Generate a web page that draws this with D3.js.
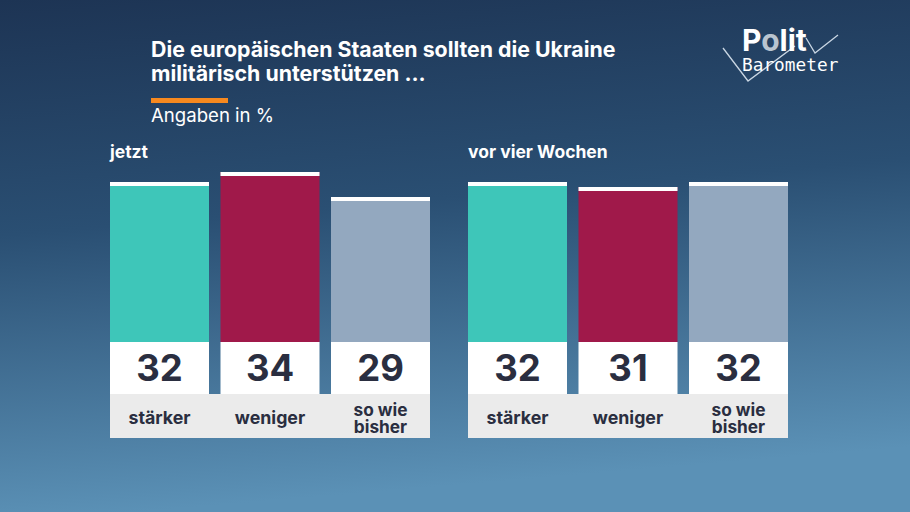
<!DOCTYPE html>
<html>
<head>
<meta charset="utf-8">
<script src="https://cdn.jsdelivr.net/npm/d3@7"></script>
<style>
  body { margin: 0; background: #1e3756; }
  svg { display: block; font-family: Inter, "Noto Sans", sans-serif; }
</style>
</head>
<body>
<svg id="chart" width="910" height="512"></svg>
<script>
// data
var categories = ["stärker", "weniger", "so wie bisher"];
var labelLines = [["stärker"], ["weniger"], ["so wie", "bisher"]];
var jetzt = [32, 34, 29];
var vorVierWochen = [32, 31, 32];
var panelTitles = ["jetzt", "vor vier Wochen"];
var barColors = ["#3ec6b9", "#a0194a", "#93a8bf"];

var dims = { width: 910, height: 512, base: 342, numH: 52, labH: 44 };

var svg = d3.select("#chart");

// background gradient
var defs = svg.append("defs");
var grad = defs.append("linearGradient").attr("id", "bg")
    .attr("x1", 0).attr("y1", 0).attr("x2", 0.15).attr("y2", 1);
grad.append("stop").attr("offset", "0%").attr("stop-color", "#1d3454");
grad.append("stop").attr("offset", "45%").attr("stop-color", "#2a4f73");
grad.append("stop").attr("offset", "100%").attr("stop-color", "#5b91b6");
svg.append("rect").attr("width", dims.width).attr("height", dims.height).attr("fill", "url(#bg)");

// title
svg.append("text").attr("x", 151).attr("y", 57)
    .attr("fill", "#fff").attr("font-size", 21.3).attr("font-weight", 700)
    .text("Die europäischen Staaten sollten die Ukraine");
svg.append("text").attr("x", 151).attr("y", 81)
    .attr("fill", "#fff").attr("font-size", 21.3).attr("font-weight", 700)
    .text("militärisch unterstützen ...");
svg.append("rect").attr("x", 151).attr("y", 98).attr("width", 77).attr("height", 5).attr("fill", "#f7891f");
svg.append("text").attr("x", 151).attr("y", 122)
    .attr("fill", "#fff").attr("font-size", 18.6)
    .text("Angaben in %");

// logo
var logo = svg.append("g");
logo.append("polyline")
    .attr("points", "723,48 748,81 795,46")
    .attr("fill", "none").attr("stroke", "#c9d6e3").attr("stroke-width", 1.3);
logo.append("polyline")
    .attr("points", "806,38 815,53 838,35")
    .attr("fill", "none").attr("stroke", "#c9d6e3").attr("stroke-width", 1.3);
var pol = logo.append("text").attr("x", 742).attr("y", 51)
    .attr("font-size", 30).attr("font-weight", 700).attr("fill", "#fff");
pol.append("tspan").text("P");
pol.append("tspan").attr("fill", "#b9c4d0").text("o");
pol.append("tspan").text("lit");
logo.append("text").attr("x", 742).attr("y", 71)
    .attr("font-size", 17.8).attr("fill", "#fff")
    .attr("font-family", "'DejaVu Sans Mono', monospace")
    .text("Barometer");

var y = d3.scaleLinear().domain([0, 40]).range([dims.base, dims.base - 200]);

function drawPanel(x0, x1, values, title) {
    var x = d3.scaleBand().domain(categories).range([x0, x1]).paddingInner(0.104).paddingOuter(0);
    var g = svg.append("g");

    g.append("text").attr("x", x0).attr("y", 158)
        .attr("fill", "#fff").attr("font-size", 17.5).attr("font-weight", 700)
        .text(title);

    var data = categories.map((c, i) => ({ cat: c, v: values[i], col: barColors[i], lines: labelLines[i] }));

    g.selectAll(".bar").data(data).enter().append("rect")
        .attr("x", d => x(d.cat)).attr("width", x.bandwidth())
        .attr("y", d => y(d.v)).attr("height", d => y(0) - y(d.v))
        .attr("fill", d => d.col);
    // white top edge
    g.selectAll(".cap").data(data).enter().append("rect")
        .attr("x", d => x(d.cat)).attr("width", x.bandwidth())
        .attr("y", d => y(d.v)).attr("height", 4)
        .attr("fill", "#fff");
    // number boxes
    g.selectAll(".nb").data(data).enter().append("rect")
        .attr("x", d => x(d.cat)).attr("width", x.bandwidth())
        .attr("y", dims.base).attr("height", dims.numH)
        .attr("fill", "#fff");
    g.selectAll(".num").data(data).enter().append("text")
        .attr("x", d => x(d.cat) + x.bandwidth() / 2).attr("y", dims.base + 39)
        .attr("text-anchor", "middle").attr("font-size", 36.5).attr("font-weight", 700)
        .attr("fill", "#2a2e40")
        .text(d => d.v);
    // label row
    g.append("rect").attr("x", x0).attr("width", x1 - x0)
        .attr("y", dims.base + dims.numH).attr("height", dims.labH)
        .attr("fill", "#ebebeb");
    data.forEach(d => {
        var n = d.lines.length;
        d.lines.forEach((l, i) => {
            g.append("text")
                .attr("x", x(d.cat) + x.bandwidth() / 2)
                .attr("y", n > 1 ? 416 + i * 17 : 424)
                .attr("text-anchor", "middle")
                .attr("font-size", n > 1 ? 17.3 : 17.8).attr("font-weight", 700)
                .attr("fill", "#2a2e40")
                .text(l);
        });
    });
}

drawPanel(110, 430, jetzt, panelTitles[0]);
drawPanel(468, 788, vorVierWochen, panelTitles[1]);
</script>
</body>
</html>
